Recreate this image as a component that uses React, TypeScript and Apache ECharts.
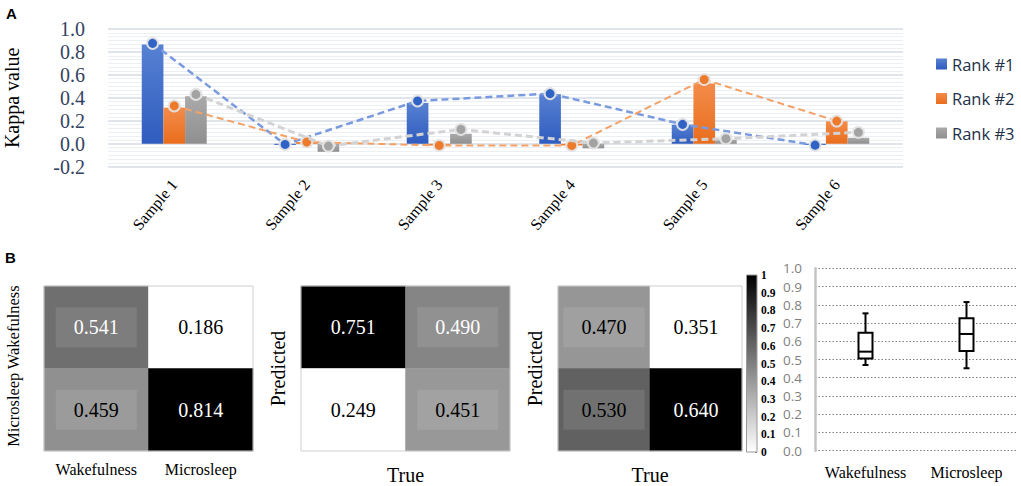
import React, { useEffect, useRef } from "react";
import * as echarts from "echarts";

// ---------- Panel A data ----------
const categories = ["Sample 1", "Sample 2", "Sample 3", "Sample 4", "Sample 5", "Sample 6"];
const rankNames = ["Rank #1", "Rank #2", "Rank #3"];
const rank1Bars = [0.866, -0.01, 0.356, 0.431, 0.166, -0.01];
const rank2Bars = [0.315, 0.015, -0.015, -0.015, 0.525, 0.195];
const rank3Bars = [0.414, -0.07, 0.087, -0.04, 0.035, 0.052];
const rank1Line = [0.875, -0.006, 0.373, 0.437, 0.169, -0.012];
const rank2Line = [0.33, 0.015, -0.015, -0.015, 0.56, 0.198];
const rank3Line = [0.43, -0.02, 0.125, 0.006, 0.044, 0.1];
const kappaTicks = { min: -0.2, max: 1.0, interval: 0.2 };

// ---------- Panel B data ----------
const classes = ["Wakefulness", "Microsleep"];
const matrix1 = [
  [0.541, 0.186],
  [0.459, 0.814],
];
const matrix2 = [
  [0.751, 0.49],
  [0.249, 0.451],
];
const matrix3 = [
  [0.47, 0.351],
  [0.53, 0.64],
];
const colorbarTicks = { min: 0, max: 1, interval: 0.1 };
// [min, Q1, median, Q3, max]
const wakeBox = [0.47, 0.505, 0.543, 0.647, 0.753];
const microBox = [0.452, 0.547, 0.64, 0.726, 0.815];
const boxTicks = { min: 0, max: 1, interval: 0.1 };

// ---------- styles ----------
const SERIF = "'Liberation Serif', 'Times New Roman', serif";
const SANS = "'Open Sans', 'Liberation Sans', sans-serif";
const labelColors1 = [
  ["#ffffff", "#000000"],
  ["#000000", "#ffffff"],
];
const labelColors2 = [
  ["#ffffff", "#ffffff"],
  ["#000000", "#000000"],
];
const labelColors3 = [
  ["#000000", "#000000"],
  ["#000000", "#ffffff"],
];
const barGrad = [
  ["#5781d2", "#2f5cbf"],
  ["#f38c4a", "#e96d1c"],
  ["#aaaaaa", "#8f8f8f"],
];
const markerColors = ["#3063c6", "#ee7a2c", "#a3a3a3"];
const lineColors = ["#7a9ae0", "#f4a168", "#d3d3d3"];
const lineWidths = [2.5, 2, 3];
const BAR_FRACTION = 0.1635;

function grad(top: string, bottom: string) {
  return new echarts.graphic.LinearGradient(0, 0, 0, 1, [
    { offset: 0, color: top },
    { offset: 1, color: bottom },
  ]);
}

function heatData(m: number[][], labelColors: string[][]) {
  const flat = m.flat();
  const mn = Math.min(...flat);
  const mx = Math.max(...flat);
  const out: any[] = [];
  m.forEach((row, r) =>
    row.forEach((v, c) => {
      const t = (v - mn) / (mx - mn);
      const mid = t > 0.01 && t < 0.99;
      out.push({
        value: [c, r, v],
        label: {
          color: labelColors[r][c],
          backgroundColor: mid ? "rgba(255,255,255,0.1)" : "transparent",
        },
      });
    })
  );
  return { data: out, min: mn, max: mx };
}

export default function App() {
  const ref = useRef<HTMLDivElement>(null);

  useEffect(() => {
    if (!ref.current) return;
    const chart = echarts.init(ref.current, null, { renderer: "svg" });

    const barSets = [rank1Bars, rank2Bars, rank3Bars];
    const lineSets = [rank1Line, rank2Line, rank3Line];
    const offsets = [-BAR_FRACTION, 0, BAR_FRACTION];

    const h1 = heatData(matrix1, labelColors1);
    const h2 = heatData(matrix2, labelColors2);
    const h3 = heatData(matrix3, labelColors3);

    const heatLabel = {
      show: true,
      fontFamily: SERIF,
      fontSize: 20,
      lineHeight: 22,
      padding: [9, 18],
      formatter: (p: any) => p.value[2].toFixed(3),
    };

    const fixedGrid = { outerBoundsMode: "none", containLabel: false };

    const heatGridStyle = {
      ...fixedGrid,
      show: true,
      borderColor: "#cfcfcf",
      borderWidth: 1,
      backgroundColor: "transparent",
      z: 10,
    };

    const hmX = (gridIndex: number, showLabels: boolean, name: string) => ({
      type: "category",
      gridIndex,
      data: classes,
      axisLine: { show: false },
      axisTick: { show: false },
      splitLine: { show: false },
      axisLabel: {
        show: showLabels,
        interval: 0,
        fontFamily: SERIF,
        fontSize: 16,
        color: "#000",
        margin: 10,
      },
      name,
      nameLocation: "middle",
      nameGap: 14,
      nameTextStyle: { fontFamily: SERIF, fontSize: 20, color: "#000", verticalAlign: "top" },
    });
    const hmY = (gridIndex: number, showLabels: boolean, name: string) => ({
      type: "category",
      gridIndex,
      data: classes,
      inverse: true,
      axisLine: { show: false },
      axisTick: { show: false },
      splitLine: { show: false },
      axisLabel: {
        show: showLabels,
        interval: 0,
        rotate: 90,
        fontFamily: SERIF,
        fontSize: 16.5,
        color: "#000",
        margin: 22,
      },
      name,
      nameLocation: "middle",
      nameRotate: 90,
      nameGap: 13,
      nameTextStyle: { fontFamily: SERIF, fontSize: 20, color: "#000" },
    });

    const option: any = {
      animation: false,
      backgroundColor: "#ffffff",
      graphic: [
        {
          type: "text",
          left: 6,
          top: 6,
          style: { text: "A", font: "bold 15px 'Liberation Sans', Arial, sans-serif", fill: "#000" },
        },
        {
          type: "text",
          left: 5,
          top: 250,
          style: { text: "B", font: "bold 15px 'Liberation Sans', Arial, sans-serif", fill: "#000" },
        },
      ],
      legend: {
        data: rankNames,
        orient: "vertical",
        left: 931,
        top: 49,
        itemWidth: 11,
        itemHeight: 11,
        itemGap: 14.5,
        icon: "rect",
        textStyle: { fontFamily: SANS, fontSize: 16.5, color: "#243049", lineHeight: 20 },
      },
      grid: [
        { left: 108, top: 29, width: 795, height: 137.7, ...fixedGrid },
        { left: 44, top: 286, width: 209, height: 165, ...heatGridStyle },
        { left: 301, top: 286, width: 209, height: 165, ...heatGridStyle },
        { left: 558, top: 286, width: 184, height: 165, ...heatGridStyle },
        {
          ...fixedGrid,
          left: 746.5,
          top: 275,
          width: 10.5,
          height: 177,
          show: true,
          borderColor: "#9a9a9a",
          borderWidth: 1,
          backgroundColor: "transparent",
          z: 10,
        },
        { left: 815, top: 268.3, width: 202, height: 182.4, ...fixedGrid },
      ],
      visualMap: [
        { show: false, type: "continuous", seriesIndex: 6, dimension: 2, min: h1.min, max: h1.max, inRange: { color: ["#ffffff", "#000000"] } },
        { show: false, type: "continuous", seriesIndex: 7, dimension: 2, min: h2.min, max: h2.max, inRange: { color: ["#ffffff", "#000000"] } },
        { show: false, type: "continuous", seriesIndex: 8, dimension: 2, min: h3.min, max: h3.max, inRange: { color: ["#ffffff", "#000000"] } },
      ],
      xAxis: [
        {
          type: "category",
          gridIndex: 0,
          data: categories,
          axisLine: { show: false, onZero: false },
          axisTick: { show: false },
          axisLabel: { interval: 0, rotate: 50, fontFamily: SERIF, fontSize: 16, color: "#000", margin: 15 },
        },
        { type: "value", gridIndex: 0, min: 0, max: categories.length, show: false },
        hmX(1, true, ""),
        hmX(2, false, "True"),
        hmX(3, false, "True"),
        { type: "category", gridIndex: 4, data: ["scale"], show: false },
        {
          type: "category",
          gridIndex: 5,
          data: classes,
          axisLine: { show: false },
          axisTick: { show: false },
          axisLabel: { interval: 0, fontFamily: SERIF, fontSize: 16, color: "#000", margin: 14 },
        },
      ],
      yAxis: [
        {
          type: "value",
          gridIndex: 0,
          min: kappaTicks.min,
          max: kappaTicks.max,
          interval: kappaTicks.interval,
          name: "Kappa value",
          nameLocation: "middle",
          nameRotate: 90,
          nameGap: 86,
          nameTextStyle: { fontFamily: SERIF, fontSize: 20, color: "#000" },
          axisLine: { show: false },
          axisTick: { show: false },
          axisLabel: {
            fontFamily: SERIF,
            fontSize: 20,
            color: "#34435f",
            margin: 23,
            formatter: (v: number) => v.toFixed(1),
          },
          splitLine: { show: true, lineStyle: { color: "#d6dce5", width: 1.5 } },
          minorTick: { show: false, splitNumber: 6 },
          minorSplitLine: { show: true, lineStyle: { color: "#eceff4", width: 1 } },
        },
        hmY(1, true, ""),
        hmY(2, false, "Predicted"),
        hmY(3, false, "Predicted"),
        {
          type: "value",
          gridIndex: 4,
          position: "right",
          min: colorbarTicks.min,
          max: colorbarTicks.max,
          interval: colorbarTicks.interval,
          axisLine: { show: false },
          axisTick: { show: true, inside: true, length: 2, lineStyle: { color: "#777" } },
          splitLine: { show: false },
          axisLabel: { fontFamily: SERIF, fontSize: 11.5, fontWeight: "bold", color: "#000", margin: 4 },
        },
        {
          type: "value",
          gridIndex: 5,
          min: boxTicks.min,
          max: boxTicks.max,
          interval: boxTicks.interval,
          axisLine: { show: true, lineStyle: { color: "#c4c4c4", width: 2.5 } },
          axisTick: { show: false },
          axisLabel: {
            fontFamily: SANS,
            fontSize: 13.5,
            color: "#7f7f7f",
            margin: 13,
            formatter: (v: number) => v.toFixed(1),
          },
          splitLine: { show: true, lineStyle: { color: "#7f7f7f", type: [1.5, 2], width: 1 } },
        },
      ],
      series: [
        ...barSets.map((vals, s) => ({
          name: rankNames[s],
          type: "bar",
          xAxisIndex: 0,
          yAxisIndex: 0,
          data: vals,
          barWidth: `${BAR_FRACTION * 100}%`,
          barGap: "0%",
          itemStyle: { color: grad(barGrad[s][0], barGrad[s][1]) },
          emphasis: { disabled: true },
          z: 2,
        })),
        ...lineSets.map((vals, s) => ({
          name: `${rankNames[s]} trend`,
          type: "line",
          xAxisIndex: 1,
          yAxisIndex: 0,
          data: vals.map((v, i) => [i + 0.5 + offsets[s], v]),
          symbol: "circle",
          symbolSize: 11,
          showSymbol: true,
          lineStyle: { color: lineColors[s], width: lineWidths[s], type: [7, 4] },
          itemStyle: {
            color: markerColors[s],
            borderColor: "rgba(228,228,228,0.95)",
            borderWidth: 2,
          },
          emphasis: { disabled: true },
          z: 3 + s,
        })),
        ...[h1, h2, h3].map((h, k) => ({
          type: "heatmap",
          xAxisIndex: 2 + k,
          yAxisIndex: 1 + k,
          data: h.data,
          label: heatLabel,
          emphasis: { disabled: true },
        })),
        {
          type: "bar",
          xAxisIndex: 5,
          yAxisIndex: 4,
          data: [colorbarTicks.max],
          barWidth: "100%",
          itemStyle: { color: grad("#000000", "#ffffff") },
          emphasis: { disabled: true },
        },
        {
          type: "custom",
          xAxisIndex: 6,
          yAxisIndex: 5,
          data: [wakeBox, microBox].map((b, i) => [i, ...b]),
          encode: { x: 0, y: [1, 2, 3, 4, 5] },
          renderItem: (params: any, api: any) => {
            const x = api.value(0);
            const pMin = api.coord([x, api.value(1)]);
            const pQ1 = api.coord([x, api.value(2)]);
            const pMed = api.coord([x, api.value(3)]);
            const pQ3 = api.coord([x, api.value(4)]);
            const pMax = api.coord([x, api.value(5)]);
            const cx = pMed[0];
            const hw = 7;
            const cw = 3;
            const st = { stroke: "#000", lineWidth: 2, fill: "none" };
            return {
              type: "group",
              children: [
                { type: "line", shape: { x1: cx, y1: pMax[1], x2: cx, y2: pQ3[1] }, style: st },
                { type: "line", shape: { x1: cx, y1: pQ1[1], x2: cx, y2: pMin[1] }, style: st },
                { type: "line", shape: { x1: cx - cw, y1: pMax[1], x2: cx + cw, y2: pMax[1] }, style: st },
                { type: "line", shape: { x1: cx - cw, y1: pMin[1], x2: cx + cw, y2: pMin[1] }, style: st },
                {
                  type: "rect",
                  shape: { x: cx - hw, y: pQ3[1], width: hw * 2, height: pQ1[1] - pQ3[1] },
                  style: { fill: "#fff", stroke: "#000", lineWidth: 2 },
                },
                { type: "line", shape: { x1: cx - hw, y1: pMed[1], x2: cx + hw, y2: pMed[1] }, style: st },
              ],
            };
          },
        },
      ],
    };

    chart.setOption(option);
    return () => chart.dispose();
  }, []);

  return (
    <div
      ref={ref}
      style={{ position: "absolute", left: 0, top: 0, width: 1021, height: 486, background: "#fff" }}
    />
  );
}
